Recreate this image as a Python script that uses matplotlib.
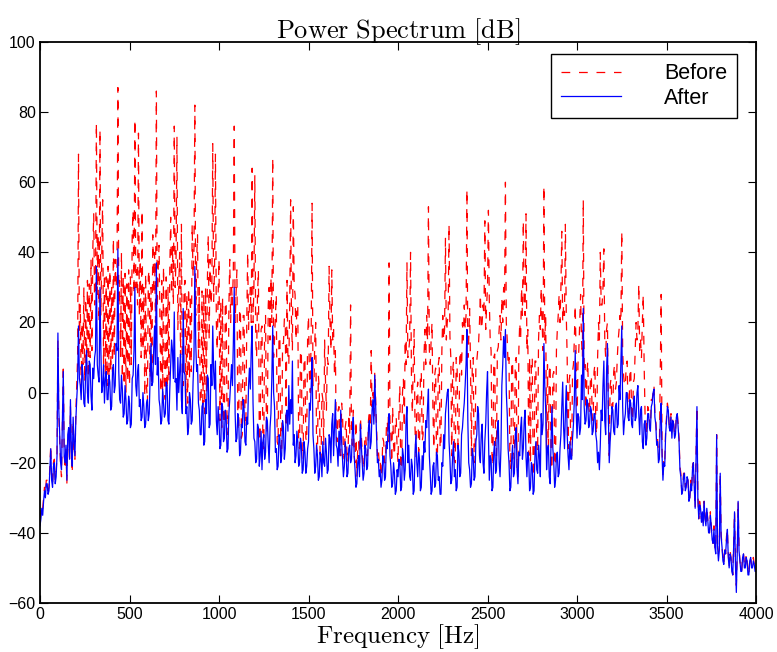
import numpy as np
import matplotlib
matplotlib.use("Agg")
import matplotlib.pyplot as plt

plt.rcParams['font.family'] = ['Liberation Sans', 'DejaVu Sans']
plt.rcParams['mathtext.fontset'] = 'cm'

# frequency grid of the spectrum, 5 Hz steps
freq_hz = np.arange(0, 4001, 5)

# power spectrum before processing (dB), one row per 100 Hz
before_db = [
    -36, -34, -32, -33, -30, -27, -29, -25, -25, -28, -27, -21, -15, -24, -26, -20, -19, -25, -23, -17,
    15, -6, -14, -21, -24, -9, 8, -17, -22, -16, -26, -13, -11, -20, -4, -17, -23, -8, -16, -19,
    -6, 2, 10, 68, 14, 25, 2, 20, 8, 30, 3, 27, 6, 32, 4, 31, 10, 38, 12, 41,
    51, 25, 30, 77, 28, 45, 20, 75, 22, 40, 55, 8, 34, 5, 33, 2, 36, 4, 35, 6,
    30, 6, 44, 10, 38, 30, 35, 87, 25, 32, 10, 40, 4, 33, 2, 34, 0, 31, 3, 35,
    2, 33, 8, 45, 52, 28, 78, 30, 35, 25, 74, 22, 38, 10, 52, 12, 30, -1, 34, 2,
    -3, 33, 35, 4, 30, 2, 45, 28, 40, 20, 86, 24, 35, 42, 20, 0, 32, -2, 36, 0,
    -2, 33, 1, 30, 3, 35, 50, 28, 42, 25, 76, 30, 38, 73, 18, 30, 40, 10, 48, 5,
    2, 30, 32, -4, 28, -3, 30, 4, 28, 6, 48, 33, 40, 82, 22, 38, 45, 10, 30, -3,
    -3, 29, -5, 28, -6, 30, 0, 32, 45, 15, 38, 25, 30, 71, 26, 35, 68, 20, 12, 28,
    38, -8, 26, -10, 27, -9, -8, 25, 26, -11, -12, 24, 38, 20, 30, 25, 35, 76, 20, 28,
    35, -9, -11, 24, 22, -13, -12, 22, 22, -10, -9, 20, 40, 18, 25, 30, 20, 64, 20, 30,
    62, 15, 10, 28, 35, -12, -14, 18, 19, -15, -16, 20, 22, -12, -10, 25, 30, 15, 33, 20,
    67, 10, 15, 22, 28, -14, -15, 16, 16, -17, -18, 14, 14, 21, 21, -10, 32, 10, 8, 25,
    55, 20, 12, 53, 30, 28, 15, 25, 25, -15, -16, 12, 12, -18, -19, 10, 9, -13, -14, 16,
    22, 5, 0, 18, 54, 2, 2, 15, 20, -16, -17, 5, 1, -19, -20, 0, -2, -15, 15, 3,
    -5, 10, 8, 36, 20, 12, 35, 15, 18, 5, 12, -12, -14, -5, -4, -16, -18, -3, -6, -17,
    -19, -10, -8, -18, -20, -6, -12, 25, -12, -15, -5, -18, -20, -8, -24, -16, -14, -20, -7, -12,
    -17, -22, -21, -12, -12, -18, -18, -8, -5, -10, 12, -4, 0, -8, 6, -2, -10, -18, -16, -20,
    -19, -24, -22, -13, -14, -20, -20, -10, -8, -14, 37, -8, -12, -20, -4, -15, -18, -9, -7, -16,
    -20, -6, 2, -21, -22, 0, 4, -10, 15, 8, 37, 10, 12, 15, 40, 5, -6, 8, 18, -10,
    -19, 0, 3, -17, -15, 4, 6, -14, -12, 10, 18, 8, 22, 15, 53, 12, 8, 15, 20, -5,
    -16, 5, 7, -18, -19, 8, 10, -16, -14, 12, 22, 15, 18, 44, 15, 20, 22, 48, 16, 10,
    -18, 6, 9, -19, -20, 10, 8, -15, -13, 10, 12, 5, 20, 15, 25, 18, 22, 58, 10, 15,
    24, 8, -18, 9, 10, -19, -20, 8, 9, 12, 14, 20, 28, 18, 20, 25, 22, 49, 18, 25,
    30, 52, 26, 15, 12, -18, -21, 10, 11, -16, -18, 12, 13, 18, 22, 15, 27, 20, 30, 25,
    60, 20, 15, 8, 10, -20, -22, 8, 9, -17, -19, 9, 10, -22, -24, 12, 20, 15, 30, 22,
    49, 25, 22, 51, 12, 18, -18, 10, -20, 8, 10, -22, -24, 9, 9, -15, -17, 15, 22, 18,
    30, 20, 12, 59, 15, 22, -16, 8, -18, 6, 8, -20, -22, 5, 6, -19, -21, 12, 18, 22,
    28, 20, 30, 46, 20, 25, 22, 48, 22, 10, -16, 3, 5, -17, -18, 6, 8, 15, 25, 10,
    -10, 8, 12, 20, 28, 15, 10, 55, 6, 8, -5, 5, 9, -4, -6, 4, 5, -7, -8, 6,
    8, -10, -12, 10, 20, 15, 40, 25, 25, 30, 41, 15, 10, 18, 20, -5, -18, 2, 4, -4,
    -4, 6, 8, 1, 3, 10, 15, 18, 22, 20, 46, 12, 5, 2, 2, 8, 9, -5, -6, 5,
    7, -6, -8, 3, 4, 12, 20, 15, 18, 31, 12, 15, 10, 20, 28, 8, -6, -8, -12, -4,
    -5, -8, -10, -2, -2, 0, 2, -6, -8, -12, -13, -18, -17, 5, 28, -16, -24, -19, -20, -11,
    -7, -3, -5, -9, -10, -6, -12, -7, -9, -12, -11, -6, -6, -9, -13, -21, -23, -28, -28, -23,
    -23, -27, -26, -24, -25, -30, -30, -25, -28, -21, -20, -26, -33, -17, -4, -29, -36, -31, -33, -36,
    -34, -37, -31, -35, -38, -33, -36, -39, -40, -34, -38, -41, -43, -38, -44, -45, -12, -43, -46, -44,
    -23, -40, -44, -47, -49, -44, -46, -41, -39, -46, -50, -45, -47, -50, -52, -43, -34, -48, -55, -45,
    -31, -44, -48, -50, -51, -46, -46, -49, -50, -46, -48, -51, -52, -47, -47, -49, -50, -47, -49, -50,
    -50,
]

# power spectrum after processing (dB)
after_db = [
    -38, -36, -33, -35, -31, -28, -30, -26, -26, -29, -28, -22, -16, -25, -27, -21, -20, -26, -24, -18,
    17, -5, -12, -20, -22, -8, 6, -18, -20, -15, -25, -12, -10, -19, -2, -16, -21, -7, -14, -18,
    -8, -2, 3, 19, 4, 2, -2, 8, 5, -3, -4, 6, 12, 0, -3, 9, 8, -1, -5, 7,
    4, 10, 12, 36, 8, 5, 3, 30, 12, 0, 2, 8, -3, 4, 6, -2, -2, 5, 3, -5,
    -4, 6, 8, 0, 2, 14, 12, 41, 6, -2, -3, 5, 1, -7, -6, 2, -2, -9, -8, -1,
    -3, -10, -9, 4, 5, 12, 30, 2, -1, 6, 8, -4, -2, -8, -7, 0, -4, -10, -9, -3,
    -2, -8, -6, 4, 14, 2, 3, 12, 19, 8, 37, 5, 10, -2, -4, -9, -8, 1, -3, -7,
    -6, 3, 2, -8, -9, 1, 8, 15, 12, 4, 23, 3, 4, -5, 10, 0, 6, 11, -2, -6,
    24, 6, 5, -6, -4, -12, -10, 0, -2, -9, -8, 3, 10, 36, 14, 6, 8, -3, -5, -12,
    -12, -4, -3, -15, -14, -2, -6, 5, 4, -10, -9, 8, 2, 19, 6, 1, 9, -8, -12, -4,
    -8, -16, -15, -3, -4, -14, -13, -5, -7, -17, -16, -6, -2, 3, 8, 2, 14, 30, -6, -14,
    -13, -6, -8, -18, -17, -9, -10, -2, -5, -14, -15, -7, -9, 2, 7, 1, 12, 19, -3, -13,
    -14, -20, -19, -9, -10, -21, -18, -11, -22, -14, -12, -19, -17, -7, -8, -15, -20, -10, -6, 4,
    19, 0, -4, -17, -16, -22, -21, -12, -13, -20, -18, -8, -10, -19, -16, -6, -5, -11, 2, -9,
    -2, -6, 9, -15, -12, -20, -18, -11, -14, -21, -20, -13, -15, -23, -22, -14, -17, -23, -21, -16,
    -14, -3, -5, 2, 10, -12, -16, -23, -21, -15, -18, -25, -24, -17, -19, -24, -14, -20, -21, -13,
    -17, -23, -22, -12, -13, -20, -9, -6, -18, -10, -2, -15, -16, -21, -11, -18, -5, -14, -19, -24,
    -21, -14, -17, -24, -23, -16, -15, -20, -19, -11, -7, -18, -22, -27, -26, -20, -18, -24, -9, -15,
    -20, -25, -23, -15, -16, -22, -21, -10, -8, -16, -14, -5, -2, -9, 5, -4, -12, -20, -19, -24,
    -22, -27, -25, -18, -19, -25, -24, -14, -16, -10, -6, -18, -21, -27, -26, -20, -23, -29, -28, -22,
    -24, -19, -20, -28, -27, -16, -18, -25, -22, -8, -4, -20, -15, -24, -25, -19, -21, -29, -28, -17,
    -12, -20, -24, -17, -19, -28, -27, -18, -22, -14, -17, -8, -10, -4, 1, -18, -23, -29, -28, -21,
    -20, -27, -26, -17, -18, -25, -24, -29, -29, -20, -21, -12, -16, -6, -3, 0, 1, -14, -19, -26,
    -25, -18, -14, -24, -22, -28, -27, -15, -17, -24, -23, -12, -10, -6, -3, 2, 8, 18, -8, -20,
    -22, -27, -26, -16, -18, -25, -24, -14, -12, -4, -6, -18, -20, -12, -9, -20, -23, -14, -9, 0,
    6, -12, -25, -18, -19, -28, -27, -17, -14, -23, -22, -10, -8, -20, -24, -16, 2, 8, 16, 10,
    18, 0, -6, -16, -20, -28, -27, -19, -15, -24, -23, -12, -10, -22, -26, -17, -18, -10, -7, -19,
    -16, -8, -5, -18, -24, -17, -19, -28, -27, -20, -21, -29, -28, -18, -14, -22, -23, -15, -18, -24,
    -6, -12, -9, 14, 2, -5, -22, -16, -15, -24, -26, -14, -4, -16, -20, -27, -25, -18, -17, -24,
    -23, -16, -12, -4, 3, -10, -16, -6, 2, -12, -18, -22, -14, -19, -19, -13, -9, -2, 12, -5,
    -13, -6, -7, -12, -10, 5, -2, 24, -4, -9, -8, -2, -3, -10, -9, -4, -5, -12, -11, -6,
    -6, -12, -14, -20, -17, -22, -15, -5, -8, 2, 9, -8, -12, 6, 14, -6, -20, -14, -10, -4,
    -5, -11, -12, -4, -3, -10, -9, 2, -2, 8, 19, -4, -12, -8, -6, 0, 0, -7, -8, -2,
    -3, -9, -10, -3, -1, -8, -7, 0, 2, -6, -12, -5, -4, -14, -16, -9, -8, -15, -13, -6,
    -6, -10, -11, -4, -3, 0, 1, -7, -9, -15, -14, -20, -19, -8, -3, -18, -25, -20, -21, -12,
    -8, -4, -5, -10, -11, -7, -13, -8, -9, -13, -12, -7, -6, -10, -14, -22, -24, -29, -28, -24,
    -23, -28, -27, -24, -25, -31, -30, -26, -28, -22, -20, -27, -33, -18, -4, -30, -36, -32, -33, -37,
    -34, -38, -31, -36, -38, -33, -36, -40, -40, -35, -38, -42, -43, -39, -44, -46, -12, -44, -48, -45,
    -23, -41, -44, -48, -49, -45, -46, -42, -39, -47, -50, -46, -47, -51, -52, -44, -34, -49, -57, -46,
    -31, -45, -48, -51, -51, -47, -46, -50, -50, -47, -48, -52, -52, -48, -47, -50, -50, -48, -49, -51,
    -51,
]

x_ticks = [0, 500, 1000, 1500, 2000, 2500, 3000, 3500, 4000]
y_ticks = [-60, -40, -20, 0, 20, 40, 60, 80, 100]

assert len(before_db) == len(freq_hz) and len(after_db) == len(freq_hz)

fig = plt.figure(figsize=(7.77, 6.52), dpi=100)
ax = fig.add_axes([0.0515, 0.0752, 0.9215, 0.8604])

ax.plot(freq_hz, before_db, color='red', lw=0.9, linestyle=(0, (7, 7)), label='Before')
ax.plot(freq_hz, after_db, color='blue', lw=0.9, label='After')

ax.set_xlim(0, 4000)
ax.set_ylim(-60, 100)
ax.set_xticks(x_ticks)
ax.set_yticks(y_ticks)
ax.tick_params(direction='in', top=True, right=True, length=6, width=0.8,
               labelsize=11.5, pad=3)
for s in ax.spines.values():
    s.set_linewidth(1.3)

ax.set_title(r'$\mathrm{Power\ Spectrum\ [dB]}$', fontsize=19, pad=3)
ax.set_xlabel(r'$\mathrm{Frequency\ [Hz]}$', fontsize=18, labelpad=0)

leg = ax.legend(loc='upper right', bbox_to_anchor=(0.973, 0.979), fontsize=15.5,
                handlelength=2.8, handletextpad=2.0, borderpad=0.45,
                labelspacing=0.15, fancybox=False, framealpha=1,
                edgecolor='black', borderaxespad=0)
leg.get_frame().set_linewidth(1.0)

fig.savefig('out.png', dpi=100)
